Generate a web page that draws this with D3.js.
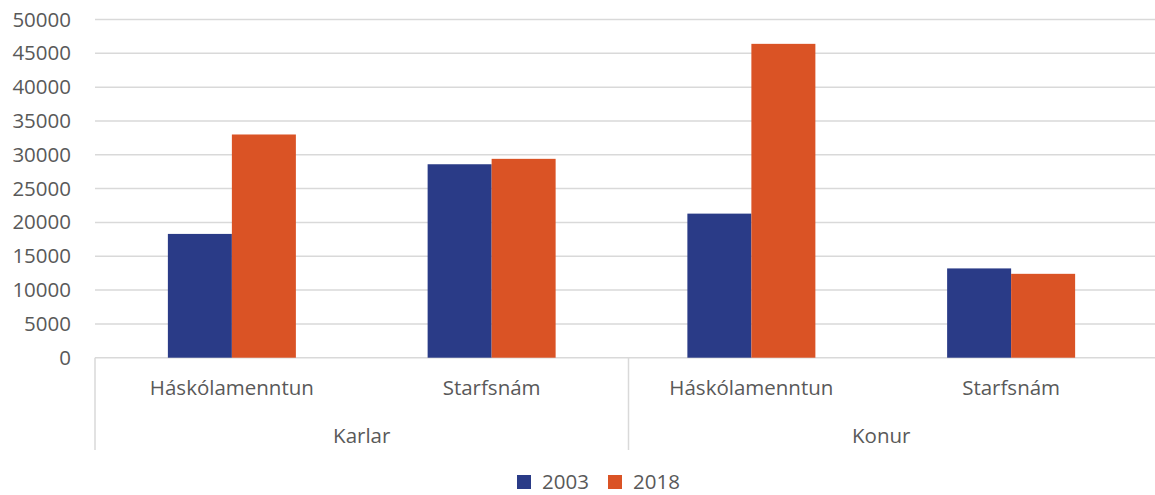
<!DOCTYPE html>
<html>
<head>
<meta charset="utf-8">
<script src="https://cdn.jsdelivr.net/npm/d3@7"></script>
<style>
  body { margin: 0; background: #fff; }
  text { font-family: "Open Sans", sans-serif; fill: #595959; }
  .grid line { stroke: #d9d9d9; stroke-width: 1.5; }
</style>
</head>
<body>
<script>
// data
const groups = ['Karlar', 'Konur'];
const levels = ['Háskólamenntun', 'Starfsnám'];
const years = ['2003', '2018'];
const values2003 = [18300, 28600, 21300, 13200];
const values2018 = [33000, 29400, 46400, 12400];
const yTicks = [0, 5000, 10000, 15000, 20000, 25000, 30000, 35000, 40000, 45000, 50000];
const colors = ['#2a3b87', '#da5325'];

const width = 1155, height = 495;
const plotLeft = 95, plotRight = 1155, plotTop = 19.5, plotBottom = 357.7;
const fontSize = '20.5px';

// one entry per bar-pair
const cats = [];
groups.forEach(function(g) {
  levels.forEach(function(l) { cats.push({ group: g, level: l, key: g + '|' + l }); });
});
const series = [values2003, values2018];

const x = d3.scaleBand()
  .domain(cats.map(function(d) { return d.key; }))
  .range([102, 1141]);

const x1 = d3.scaleBand()
  .domain(years)
  .range([-64, 64]);

const y = d3.scaleLinear()
  .domain([0, 50000])
  .range([plotBottom, plotTop]);

const svg = d3.select('body').append('svg')
  .attr('width', width)
  .attr('height', height);

// gridlines
svg.append('g')
  .attr('class', 'grid')
  .selectAll('line')
  .data(yTicks)
  .enter()
    .append('line')
    .attr('x1', plotLeft)
    .attr('x2', plotRight)
    .attr('y1', function(d) { return y(d); })
    .attr('y2', function(d) { return y(d); });

// y labels
const yAxis = svg.append('g')
  .attr('transform', 'translate(' + plotLeft + ',0)')
  .call(d3.axisLeft(y).tickValues(yTicks).tickSize(0).tickPadding(24).tickFormat(d3.format('d')));
yAxis.select('.domain').remove();
yAxis.selectAll('text')
  .style('font-size', fontSize)
  .attr('fill', '#595959');

// bars
years.forEach(function(yr, si) {
  svg.append('g')
    .selectAll('rect')
    .data(cats)
    .enter()
      .append('rect')
      .attr('x', function(d) { return x(d.key) + x.bandwidth() / 2 + x1(yr); })
      .attr('width', x1.bandwidth())
      .attr('y', function(d, i) { return y(series[si][i]); })
      .attr('height', function(d, i) { return y(0) - y(series[si][i]); })
      .attr('fill', colors[si]);
});

// category axis: level labels
svg.append('g')
  .selectAll('text')
  .data(cats)
  .enter()
    .append('text')
    .attr('x', function(d) { return x(d.key) + x.bandwidth() / 2; })
    .attr('y', 395)
    .attr('text-anchor', 'middle')
    .style('font-size', fontSize)
    .text(function(d) { return d.level; });

// group labels
svg.append('g')
  .selectAll('text')
  .data(groups)
  .enter()
    .append('text')
    .attr('x', function(g) {
      const k = cats.filter(function(c) { return c.group === g; });
      return (x(k[0].key) + x(k[k.length - 1].key) + x.bandwidth()) / 2;
    })
    .attr('y', 443)
    .attr('text-anchor', 'middle')
    .style('font-size', fontSize)
    .text(function(g) { return g; });

// group separators
const sepX = [plotLeft, (x(cats[1].key) + x.bandwidth() + x(cats[2].key)) / 2 + 7];
svg.append('g')
  .selectAll('line')
  .data(sepX)
  .enter()
    .append('line')
    .attr('x1', function(d) { return d; })
    .attr('x2', function(d) { return d; })
    .attr('y1', plotBottom)
    .attr('y2', 450)
    .attr('stroke', '#d9d9d9')
    .attr('stroke-width', 1.5);

// legend
const legend = svg.append('g')
  .selectAll('g')
  .data(years)
  .enter()
    .append('g')
    .attr('transform', function(d, i) { return 'translate(' + (517 + i * 91) + ',475)'; });
legend.append('rect')
  .attr('width', 14)
  .attr('height', 14)
  .attr('fill', function(d, i) { return colors[i]; });
legend.append('text')
  .attr('x', 25)
  .attr('y', 14)
  .style('font-size', fontSize)
  .text(function(d) { return d; });
</script>
</body>
</html>
